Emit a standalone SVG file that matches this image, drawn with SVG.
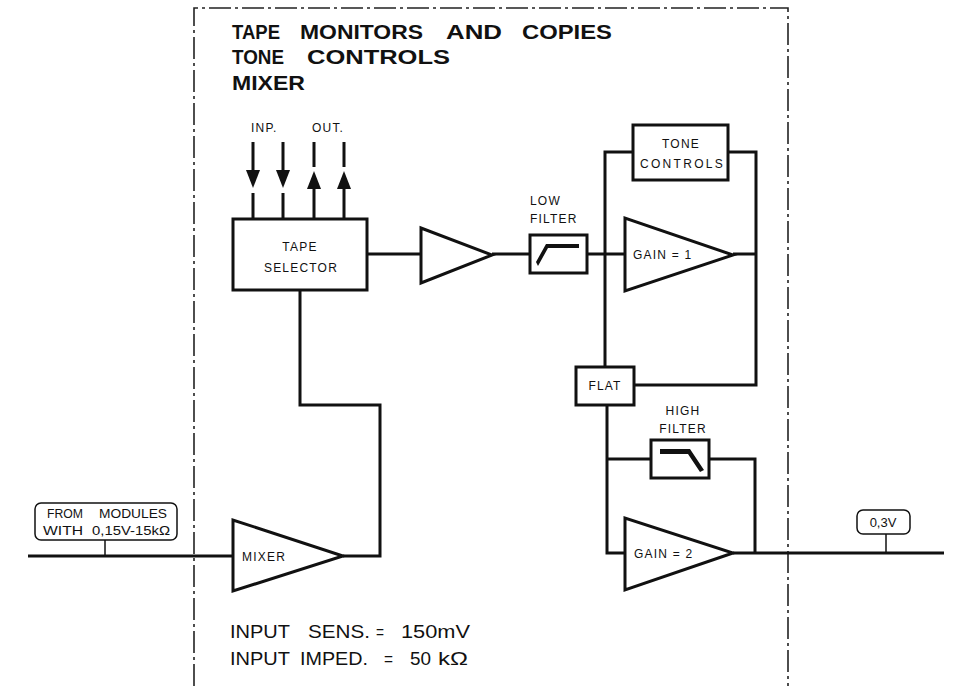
<svg xmlns="http://www.w3.org/2000/svg" width="963" height="686" viewBox="0 0 963 686">
<style>
.w{stroke:#111;stroke-width:3;fill:none;stroke-linejoin:miter}
.b{stroke:#111;stroke-width:3;fill:#fff}
.t{font-family:"Liberation Sans",Arial,sans-serif;fill:#111}
.big{font-size:21px;font-weight:bold}
.sm{font-size:12px;letter-spacing:1.2px}
.bot{font-size:18px}
.cap{font-size:12px}
.dash{stroke:#222;stroke-width:1.6;fill:none;stroke-dasharray:22 4 3 4}
</style>
<g id="border">
<path class="dash" d="M194,686 V8 H788 V686"/>
</g>
<g id="title" class="t big">
<text x="232" y="39" textLength="48" lengthAdjust="spacingAndGlyphs">TAPE</text>
<text x="300" y="39" textLength="123" lengthAdjust="spacingAndGlyphs">MONITORS</text>
<text x="446" y="39" textLength="56" lengthAdjust="spacingAndGlyphs">AND</text>
<text x="522" y="39" textLength="90" lengthAdjust="spacingAndGlyphs">COPIES</text>
<text x="232" y="64" textLength="52" lengthAdjust="spacingAndGlyphs">TONE</text>
<text x="307" y="64" textLength="143" lengthAdjust="spacingAndGlyphs">CONTROLS</text>
<text x="232" y="90" textLength="73" lengthAdjust="spacingAndGlyphs">MIXER</text>
</g>
<g id="connectors">
<path class="w" d="M253,142 V170 M253,193 V218 M283,142 V170 M283,193 V218 M314,142 V167 M314,188 V218 M344,142 V167 M344,188 V218"/>
<polygon points="246,170 260,170 253,188" fill="#111"/>
<polygon points="276,170 290,170 283,188" fill="#111"/>
<polygon points="307,189 321,189 314,171" fill="#111"/>
<polygon points="337,189 351,189 344,171" fill="#111"/>
<path class="w" d="M367,254 H421"/>
<path class="w" d="M492,254 H530"/>
<path class="w" d="M587,254 H625"/>
<path class="w" d="M733,254 H756"/>
<path class="w" d="M605,367 V152 H633 M728,152 H756 V385 H634"/>
<path class="w" d="M607,405 V553 H625 M607,459 H651 M709,459 H755 V553"/>
<path class="w" d="M733,553 H944"/>
<path class="w" d="M28,556 H233 M343,556 H380 V405 H300 V290"/>
</g>
<g id="inp-out" class="t sm">
<text x="251" y="132">INP.</text>
<text x="312" y="132">OUT.</text>
</g>
<g id="tape-selector">
<rect class="b" x="233" y="219" width="134" height="71"/>
<text class="t sm" x="300" y="251" text-anchor="middle">TAPE</text>
<text class="t sm" x="301" y="272" text-anchor="middle">SELECTOR</text>
</g>
<g id="amp">
<polygon class="b" points="421,228 421,283 492,255"/>
</g>
<g id="low-filter">
<text class="t sm" x="530" y="205">LOW</text>
<text class="t sm" x="530" y="223">FILTER</text>
<rect class="b" x="530" y="235" width="57" height="38"/>
<path d="M538,266 L548,248 H579 V244 H546 L536,262 Z" fill="#111"/>
</g>
<g id="tone-controls">
<rect class="b" x="633" y="125" width="95" height="55"/>
<text class="t sm" x="681" y="148" text-anchor="middle">TONE</text>
<text class="t sm" x="640" y="168" textLength="84" lengthAdjust="spacing">CONTROLS</text>
</g>
<g id="gain1">
<polygon class="b" points="625,218 625,291 733,255"/>
<text class="t sm" x="633" y="259" letter-spacing="0.3">GAIN = 1</text>
</g>
<g id="flat">
<rect class="b" x="576" y="367" width="58" height="38"/>
<text class="t sm" x="605" y="390" text-anchor="middle">FLAT</text>
</g>
<g id="high-filter">
<text class="t sm" x="683" y="415" text-anchor="middle">HIGH</text>
<text class="t sm" x="683" y="433" text-anchor="middle">FILTER</text>
<rect class="b" x="651" y="440" width="58" height="38"/>
<path d="M660,449 H690 L704,470 L700,472 L688,454 H660 Z" fill="#111"/>
</g>
<g id="gain2">
<polygon class="b" points="625,518 625,590 733,553"/>
<text class="t sm" x="634" y="558" letter-spacing="0.3">GAIN = 2</text>
</g>
<g id="mixer">
<polygon class="b" points="233,520 233,591 343,556"/>
<text class="t sm" x="242" y="561">MIXER</text>
</g>
<g id="from-modules">
<rect x="35" y="503" width="142" height="37" rx="6" fill="#fff" stroke="#111" stroke-width="1.5"/>
<path d="M105,540 V556" stroke="#111" stroke-width="1.5"/>
<g class="t cap">
<text x="47" y="518" textLength="36" lengthAdjust="spacingAndGlyphs">FROM</text>
<text x="99" y="518" textLength="68" lengthAdjust="spacingAndGlyphs">MODULES</text>
<text x="43" y="535" textLength="40" lengthAdjust="spacingAndGlyphs">WITH</text>
<text x="92" y="535" textLength="78" lengthAdjust="spacingAndGlyphs">0,15V-15kΩ</text>
</g>
</g>
<g id="out-level">
<rect x="857" y="510" width="53" height="24" rx="6" fill="#fff" stroke="#111" stroke-width="1.5"/>
<path d="M886,534 V553" stroke="#111" stroke-width="1.5"/>
<text class="t" font-size="13" x="883" y="527" text-anchor="middle">0,3V</text>
</g>
<g id="specs" class="t bot">
<text x="230" y="638" textLength="60" lengthAdjust="spacingAndGlyphs">INPUT</text>
<text x="308" y="638" textLength="62" lengthAdjust="spacingAndGlyphs">SENS.</text>
<text x="376" y="638" textLength="8" lengthAdjust="spacingAndGlyphs">=</text>
<text x="401" y="638" textLength="69" lengthAdjust="spacingAndGlyphs">150mV</text>
<text x="230" y="665" textLength="60" lengthAdjust="spacingAndGlyphs">INPUT</text>
<text x="300" y="665" textLength="68" lengthAdjust="spacingAndGlyphs">IMPED.</text>
<text x="384" y="665" textLength="9" lengthAdjust="spacingAndGlyphs">=</text>
<text x="410" y="665" textLength="21" lengthAdjust="spacingAndGlyphs">50</text>
<text x="438" y="665" textLength="30" lengthAdjust="spacingAndGlyphs">kΩ</text>
</g>
</svg>
